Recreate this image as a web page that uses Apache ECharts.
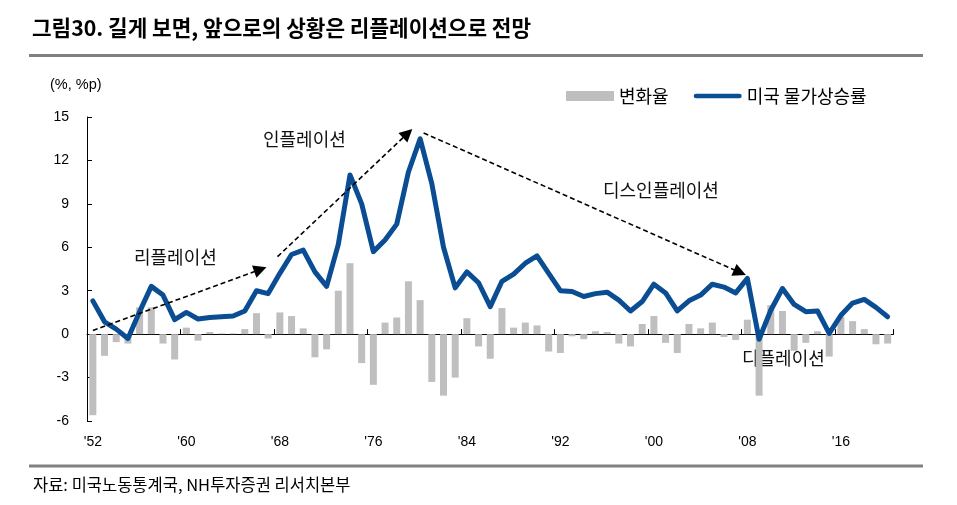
<!DOCTYPE html>
<html>
<head>
<meta charset="utf-8">
<script src="https://cdn.jsdelivr.net/npm/echarts@6/dist/echarts.min.js"></script>
<style>
html,body{margin:0;padding:0;background:#fff;}
#c{width:957px;height:505px;}
</style>
</head>
<body>
<div id="c"></div>
<script>
const years = [1952,1953,1954,1955,1956,1957,1958,1959,1960,1961,1962,1963,1964,1965,1966,1967,1968,1969,1970,1971,1972,1973,1974,1975,1976,1977,1978,1979,1980,1981,1982,1983,1984,1985,1986,1987,1988,1989,1990,1991,1992,1993,1994,1995,1996,1997,1998,1999,2000,2001,2002,2003,2004,2005,2006,2007,2008,2009,2010,2011,2012,2013,2014,2015,2016,2017,2018,2019,2020];
const cpiInflation = [2.3,0.85,0.35,-0.3,1.55,3.3,2.7,1.0,1.5,1.05,1.15,1.2,1.25,1.6,3.0,2.8,4.2,5.5,5.8,4.3,3.3,6.2,11.0,9.0,5.7,6.5,7.6,11.2,13.5,10.4,6.0,3.2,4.3,3.55,1.9,3.65,4.15,4.9,5.4,4.2,3.0,2.95,2.6,2.8,2.9,2.35,1.6,2.25,3.45,2.85,1.6,2.3,2.7,3.45,3.25,2.85,3.85,-0.35,1.65,3.15,2.05,1.55,1.6,0.05,1.3,2.15,2.4,1.85,1.2];
const changeRate = [-5.6,-1.5,-0.55,-0.65,1.85,1.85,-0.65,-1.75,0.45,-0.45,0.15,0.05,0.05,0.35,1.45,-0.3,1.5,1.25,0.4,-1.6,-1.05,3.0,4.9,-2.0,-3.5,0.8,1.15,3.65,2.35,-3.3,-4.25,-3.0,1.1,-0.85,-1.7,1.8,0.45,0.8,0.6,-1.2,-1.3,-0.15,-0.35,0.2,0.15,-0.65,-0.85,0.7,1.25,-0.6,-1.3,0.7,0.4,0.8,-0.2,-0.4,1.0,-4.25,2.0,1.6,-1.15,-0.6,0.2,-1.55,1.2,0.9,0.35,-0.7,-0.65];
const yTicks = {min:-6, max:15, interval:3};
// annotation arrows: [year, value] start / end
const arrowFrom = [[1952.0,0.25],[1967.8,5.35],[1980.3,13.9]];
const arrowTo = [[1966.33,4.47],[1978.93,13.87],[2007.36,4.26]];
const phaseLabels = ['리플레이션','인플레이션','디스인플레이션','디플레이션'];

const KR = '"Noto Sans CJK KR", "Noto Sans", sans-serif';
const NUM = '"Liberation Sans Narrow", "Liberation Sans", Arial, sans-serif';
const y0 = years[0];
const BLUE = '#0A4D92';

const chart = echarts.init(document.getElementById('c'));
chart.setOption({
  animation:false,
  backgroundColor:'#fff',
  title:{
    text:'그림30. 길게 보면, 앞으로의 상황은 리플레이션으로 전망',
    left:32, top:17, padding:0,
    textStyle:{fontFamily:KR, fontSize:21.3, fontWeight:'bold', color:'#000'}
  },
  legend:{
    left:566, top:87, padding:0, itemGap:25, itemWidth:48, itemHeight:10,
    textStyle:{fontFamily:KR, fontSize:18, color:'#000'},
    data:[
      {name:'변화율', icon:'rect'},
      {name:'미국 물가상승률', icon:'path://M2.5,0 L48.5,0 A2.5,2.5 0 0 1 48.5,5 L2.5,5 A2.5,2.5 0 0 1 2.5,0 Z',
       itemStyle:{color:BLUE, borderWidth:0}}
    ]
  },
  grid:{left:87, right:63.5, top:117, bottom:84, containLabel:false},
  xAxis:[
    {type:'category', data:years, position:'bottom', boundaryGap:true,
     axisLine:{show:false, onZero:false}, axisTick:{show:false},
     axisLabel:{interval:7, margin:14, fontFamily:NUM, fontSize:14, color:'#000',
       formatter:v=>"'"+String(v).slice(2)}},
    {type:'category', data:years, position:'bottom', boundaryGap:true,
     axisLine:{show:true, onZero:true, onZeroAxisIndex:0, lineStyle:{color:'#000', width:1}},
     axisTick:{show:true, inside:true, interval:7, length:5, lineStyle:{color:'#000'}},
     axisLabel:{show:false}},
    {type:'value', min:-0.5, max:years.length-0.5, show:false}
  ],
  yAxis:{
    type:'value', min:yTicks.min, max:yTicks.max, interval:yTicks.interval,
    axisLine:{show:true, onZero:false, lineStyle:{color:'#000', width:1}},
    axisTick:{show:true, inside:true, length:5, lineStyle:{color:'#000'}},
    axisLabel:{margin:18, fontFamily:NUM, fontSize:14, color:'#000'},
    splitLine:{show:false}
  },
  series:[
    {name:'변화율', type:'bar', data:changeRate, xAxisIndex:0, barWidth:7,
     itemStyle:{color:'#BFBFBF'}},
    {name:'미국 물가상승률', type:'line', data:cpiInflation, xAxisIndex:0,
     symbol:'none', showSymbol:false,
     lineStyle:{color:BLUE, width:5, join:'round', cap:'round'},
     itemStyle:{color:BLUE}},
    {name:'arrows', type:'lines', coordinateSystem:'cartesian2d', xAxisIndex:2, yAxisIndex:0,
     silent:true, z:5, symbol:['none','triangle'], symbolSize:13,
     lineStyle:{color:'#000', width:1.6, type:[5,3], opacity:1, curveness:0},
     data:arrowFrom.map((p,i)=>({coords:[[p[0]-y0,p[1]],[arrowTo[i][0]-y0,arrowTo[i][1]]]}))}
  ],
  graphic:[
    {type:'rect', shape:{x:29, y:54, width:894, height:3}, style:{fill:'#808080'}, silent:true},
    {type:'rect', shape:{x:29, y:464.5, width:894, height:3}, style:{fill:'#808080'}, silent:true},
    {type:'text', x:50, y:85, style:{text:'(%, %p)', font:'14.5px '+NUM, fill:'#000', verticalAlign:'middle'}},
    {type:'text', x:33, y:485, style:{text:'자료: 미국노동통계국, NH투자증권 리서치본부', font:'16.5px '+KR, fill:'#000', verticalAlign:'middle'}},
    {type:'text', x:134, y:257, style:{text:phaseLabels[0], font:'18px '+KR, fill:'#111', verticalAlign:'middle'}},
    {type:'text', x:263, y:139, style:{text:phaseLabels[1], font:'18px '+KR, fill:'#111', verticalAlign:'middle'}},
    {type:'text', x:603, y:190, style:{text:phaseLabels[2], font:'18px '+KR, fill:'#111', verticalAlign:'middle'}},
    {type:'text', x:742, y:358, style:{text:phaseLabels[3], font:'18px '+KR, fill:'#111', verticalAlign:'middle'}}
  ]
});
</script>
</body>
</html>
